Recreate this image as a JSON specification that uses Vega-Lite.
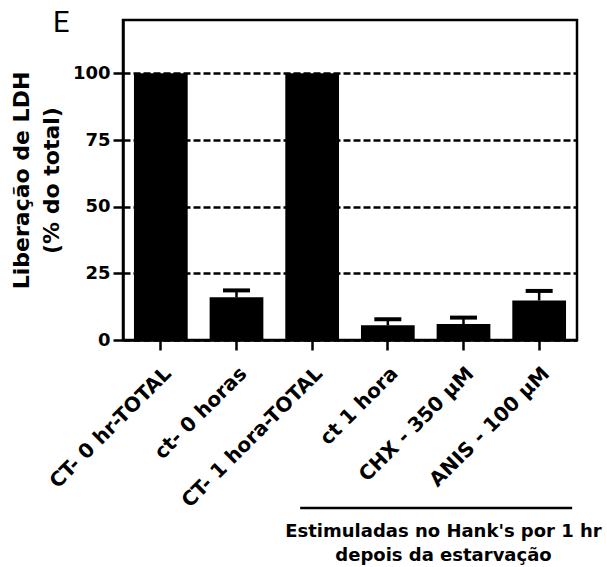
{
  "$schema": "https://vega.github.io/schema/vega-lite/v6.json",
  "autosize": "none",
  "width": 454,
  "height": 320,
  "padding": {"left": 123, "top": 20, "right": 30, "bottom": 227},
  "background": "white",
  "config": {
    "view": {"stroke": "black", "strokeWidth": 2.5},
    "font": "DejaVu Sans"
  },
  "title": {"text": "E", "anchor": "start", "frame": "group", "dx": -70, "dy": 22, "fontSize": 29, "fontWeight": "normal", "font": "Roboto", "color": "black"},
  "data": {
    "values": [
      {"cond": "CT- 0 hr-TOTAL", "mean": 100, "upper": null},
      {"cond": "ct- 0 horas", "mean": 16, "upper": 18.6},
      {"cond": "CT- 1 hora-TOTAL", "mean": 100, "upper": null},
      {"cond": "ct 1 hora", "mean": 5.5, "upper": 7.8},
      {"cond": "CHX - 350 µM", "mean": 6, "upper": 8.4},
      {"cond": "ANIS - 100 µM", "mean": 14.8, "upper": 18.4}
    ]
  },
  "encoding": {
    "x": {
      "field": "cond", "type": "nominal", "sort": null,
      "scale": {"paddingInner": 0.29, "paddingOuter": 0.145},
      "axis": {
        "title": ["Estimuladas no Hank's por 1 hr", "depois da estarvação"],
        "titleX": 320, "titleY": 182, "titleAnchor": "middle", "titleAlign": "center", "titleBaseline": "top",
        "titleFontSize": 18, "titleFontWeight": "bold", "titleColor": "black", "titleLineHeight": 24,
        "labelAngle": -45, "labelFontSize": 20, "labelFontWeight": "bold", "labelColor": "black",
        "labelPadding": 13, "labelLimit": 400, "labelOverlap": false,
        "domainColor": "black", "domainWidth": 2.5,
        "tickColor": "black", "tickWidth": 2.5, "tickSize": 10
      }
    }
  },
  "layer": [
    {
      "mark": {"type": "bar", "color": "black"},
      "encoding": {
        "y": {
          "field": "mean", "type": "quantitative",
          "scale": {"domain": [0, 120], "nice": false},
          "axis": {
            "values": [0, 25, 50, 75, 100],
            "title": ["Liberação de LDH", "(% do total)"],
            "titleFontSize": 22, "titleFontWeight": "bold", "titleColor": "black", "titleLineHeight": 30,
            "titlePadding": 9,
            "labelFontSize": 18, "labelFontWeight": "bold", "labelColor": "black", "labelPadding": 3,
            "domainColor": "black", "domainWidth": 2.5,
            "tickColor": "black", "tickWidth": 2.5, "tickSize": 10,
            "grid": true, "gridColor": "black", "gridWidth": 2.5, "gridDash": [7, 3]
          }
        }
      }
    },
    {
      "transform": [{"filter": "datum.upper != null"}],
      "mark": {"type": "rule", "color": "black", "strokeWidth": 2.5},
      "encoding": {"y": {"field": "mean", "type": "quantitative"}, "y2": {"field": "upper"}}
    },
    {
      "transform": [{"filter": "datum.upper != null"}],
      "mark": {"type": "tick", "color": "black", "opacity": 1, "thickness": 4, "size": 27, "orient": "horizontal"},
      "encoding": {"y": {"field": "upper", "type": "quantitative"}}
    },
    {
      "data": {"values": [{}]},
      "mark": {"type": "rule", "color": "black", "strokeWidth": 2.5, "clip": false, "xOffset": -12, "x2Offset": 33},
      "encoding": {
        "x": {"datum": "CT- 1 hora-TOTAL"},
        "x2": {"datum": "ANIS - 100 µM"},
        "y": {"datum": -63}
      }
    }
  ]
}
